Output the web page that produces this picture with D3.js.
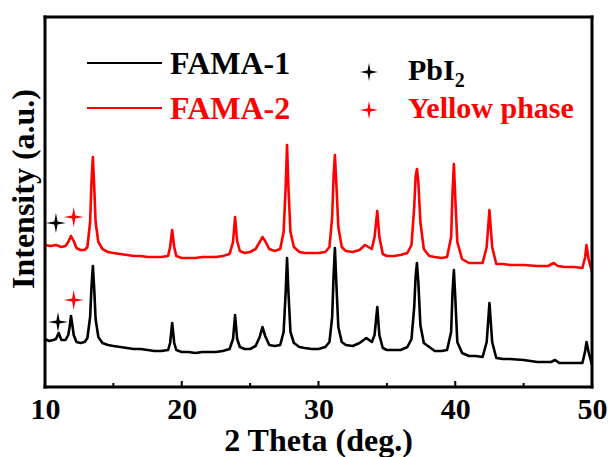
<!DOCTYPE html>
<html>
<head>
<meta charset="utf-8">
<script src="https://cdn.jsdelivr.net/npm/d3@7"></script>
<style>
body{margin:0;background:#fff;overflow:hidden;}
svg{display:block;}
text{font-family:"Liberation Serif","Times New Roman",serif;font-weight:bold;}
</style>
</head>
<body>
<div class="canvas" id="canvas" style="width:609px;height:457px;"></div>
<script>
//2 theta (deg) and intensity (a.u.)
var theta1 = [10.0,10.3,10.6,10.8,11.0,11.2,11.5,11.7,11.8,11.9,12.0,12.1,12.3,12.6,12.9,13.1,13.3,13.4,13.5,13.6,13.7,13.9,14.2,14.6,15.0,15.5,16.0,16.5,17.0,17.5,18.0,18.5,19.0,19.15,19.3,19.45,19.6,20.0,20.5,21.0,21.5,22.0,22.5,23.0,23.5,23.75,23.9,24.05,24.25,24.6,25.0,25.4,25.7,25.9,26.1,26.4,26.8,27.2,27.45,27.6,27.7,27.8,27.95,28.2,28.6,29.0,29.5,30.0,30.5,30.8,31.0,31.1,31.2,31.3,31.45,31.7,32.0,32.5,33.0,33.5,33.9,34.1,34.3,34.45,34.7,35.0,35.5,36.0,36.5,36.8,37.0,37.1,37.2,37.3,37.45,37.7,38.1,38.5,39.0,39.4,39.7,39.8,39.9,40.0,40.15,40.5,41.0,41.5,42.0,42.3,42.5,42.7,43.0,43.5,44.0,45.0,46.0,47.0,47.3,47.6,48.5,49.3,49.5,49.6,49.75,50.0];
var fama1 = [48,46,47,48,54,47,47,52,60,71,62,52,45,44,45,49,70,100,121,98,68,50,44,42,41,40,39,38,38,37,36,36,37,44,64,44,37,35,35,34,35,35,35,36,38,48,72,48,40,38,38,41,50,60,51,42,41,42,55,95,129,95,55,44,40,39,38,38,40,45,70,110,139,105,60,45,42,41,44,49,45,52,80,52,39,37,37,37,40,48,80,110,124,105,62,44,40,36,36,37,55,95,117,90,45,34,31,31,30,45,84,45,29,28,28,27,25,25,27,24,24,24,36,45,35,22];

var theta2 = [10.0,10.4,10.8,11.2,11.5,11.7,11.9,12.1,12.3,12.6,12.9,13.1,13.3,13.4,13.5,13.6,13.7,13.9,14.2,14.6,15.0,15.5,16.0,16.5,17.0,17.5,18.0,18.5,19.0,19.15,19.3,19.45,19.6,20.0,20.5,21.0,21.5,22.0,22.5,23.0,23.5,23.75,23.9,24.05,24.25,24.6,25.0,25.4,25.7,25.9,26.1,26.4,26.8,27.2,27.45,27.6,27.7,27.8,27.95,28.2,28.6,29.0,29.5,30.0,30.5,30.8,31.0,31.1,31.2,31.3,31.45,31.7,32.0,32.5,33.0,33.4,33.9,34.1,34.3,34.45,34.7,35.0,35.5,36.0,36.5,36.8,37.0,37.1,37.2,37.3,37.45,37.7,38.1,38.5,39.0,39.4,39.7,39.8,39.9,40.0,40.15,40.5,41.0,41.5,42.0,42.3,42.5,42.7,43.0,43.5,44.0,45.0,46.0,46.8,47.2,47.5,48.0,48.7,49.3,49.5,49.6,49.75,50.0];
var fama2 = [142,141,142,140,141,145,151,146,139,137,137,140,165,205,230,200,165,145,138,135,134,133,132,131,131,130,130,130,131,140,157,140,131,129,129,129,130,130,130,131,133,145,170,146,136,134,135,138,145,150,146,138,136,138,155,200,242,200,155,140,135,134,134,134,135,140,170,210,232,205,160,140,136,135,137,142,138,150,176,150,133,131,131,132,134,142,180,210,218,205,165,138,131,130,129,130,150,195,223,190,145,128,124,124,124,140,177,140,123,123,122,122,121,121,124,121,120,120,119,130,142,128,115];

var ticksMajor = [10,20,30,40,50];
var ticksMinor = [15,25,35,45];

var seriesNames = ['FAMA-1','FAMA-2'];
var seriesColors = ['#000','#ff0000'];
var phaseNames = ['PbI','Yellow phase'];

//marker stars: 2 theta, intensity, phase (0 = PbI2, 1 = yellow)
var markTheta = [10.95,12.1,10.8,12.1];
var markInt = [65,87,164,170];
var markPhase = [0,1,0,1];

var m = {t:17,r:17,b:70,l:45},
    w = 609 - m.l - m.r,
    h = 457 - m.t - m.b;

var svg = d3.select('.canvas')
    .append('svg')
    .attr('width', w + m.l + m.r)
    .attr('height', h + m.t + m.b);

var plot = svg.append('g').attr('class','plot')
    .attr('transform','translate('+ m.l+','+ m.t+')');

var scaleX = d3.scaleLinear().domain([10,50]).range([0,w]),
    scaleY = d3.scaleLinear().domain([0,370]).range([h,0]);

var line = d3.line()
    .x(function(d){ return scaleX(d[0]); })
    .y(function(d){ return scaleY(d[1]); });

var data = [d3.zip(theta1,fama1), d3.zip(theta2,fama2)];

plot.selectAll('.trace')
    .data(data)
    .enter()
    .append('path')
    .attr('class','trace')
    .attr('d',line)
    .attr('fill','none')
    .attr('stroke',function(d,i){ return seriesColors[i]; })
    .attr('stroke-width',2.6)
    .attr('stroke-linejoin','round');

//four point star
function star(r){
    var k = r*0.16;
    return 'M0,'+(-r)+'L'+k+','+(-k)+'L'+r+',0L'+k+','+k+'L0,'+r+'L'+(-k)+','+k+'L'+(-r)+',0L'+(-k)+','+(-k)+'Z';
}

plot.selectAll('.mark')
    .data(markTheta)
    .enter()
    .append('path')
    .attr('class','mark')
    .attr('d',star(10))
    .attr('transform',function(d,i){ return 'translate('+scaleX(d)+','+scaleY(markInt[i])+')'; })
    .attr('fill',function(d,i){ return seriesColors[markPhase[i]]; });

//axes
var axisB = d3.axisBottom(scaleX).tickValues(ticksMajor).tickSize(0).tickPadding(0).tickFormat(d3.format('d'));
plot.append('g').attr('transform','translate(0,'+h+')').call(axisB)
    .call(function(g){
        g.select('.domain').remove();
        g.selectAll('text').attr('y',32).attr('dy',0)
            .style('font-size','30px').style('font-family','"Liberation Serif",serif').style('font-weight','bold').attr('fill','#000');
    });

plot.selectAll('.tmaj')
    .data(ticksMajor)
    .enter().append('rect')
    .attr('x',function(d){ return scaleX(d)-1; })
    .attr('y',h-6).attr('width',2).attr('height',6)
    .attr('fill','#000');

plot.selectAll('.tmin')
    .data(ticksMinor)
    .enter().append('rect')
    .attr('x',function(d){ return scaleX(d)-1; })
    .attr('y',h-4).attr('width',2).attr('height',4)
    .attr('fill','#000');

//frame, four filled bars
var fw = 3;
var frame = [[-1.5,-1.5,w+fw,fw],[w-1.5,-1.5,fw,h+fw],[-1.5,h-1.5,w+fw,fw],[-1.5,-1.5,fw,h+fw]];
plot.selectAll('.frame')
    .data(frame)
    .enter().append('rect')
    .attr('class','frame')
    .attr('x',function(d){ return d[0]; })
    .attr('y',function(d){ return d[1]; })
    .attr('width',function(d){ return d[2]; })
    .attr('height',function(d){ return d[3]; })
    .attr('fill','#000');

plot.append('text')
    .attr('x',w/2).attr('y',h+64)
    .attr('text-anchor','middle')
    .style('font-size','32px')
    .text('2 Theta (deg.)');

plot.append('text')
    .attr('transform','translate(-11,272) rotate(-90)')
    .style('font-size','32px')
    .text('Intensity (a.u.)');

//legend
var leg = plot.append('g').attr('transform','translate(42,46)');
seriesNames.forEach(function(n,i){
    leg.append('line')
        .attr('x1',0).attr('x2',75)
        .attr('y1',i*45).attr('y2',i*45)
        .attr('stroke',seriesColors[i]).attr('stroke-width',2.2);
    leg.append('text')
        .attr('x',83).attr('y',i*45+11)
        .style('font-size','32px')
        .attr('fill',seriesColors[i])
        .text(n);
});

var leg2 = plot.append('g').attr('transform','translate(324,55)');
phaseNames.forEach(function(n,i){
    leg2.append('path')
        .attr('d',star(9))
        .attr('transform','translate(0,'+i*38+')')
        .attr('fill',seriesColors[i]);
    var t = leg2.append('text')
        .attr('x',39).attr('y',i*38+8)
        .style('font-size','30px')
        .attr('fill',seriesColors[i])
        .text(n);
    if(i==0){
        t.append('tspan').attr('dy',7).style('font-size','20px').text('2');
    }
});
</script>
</body>
</html>
